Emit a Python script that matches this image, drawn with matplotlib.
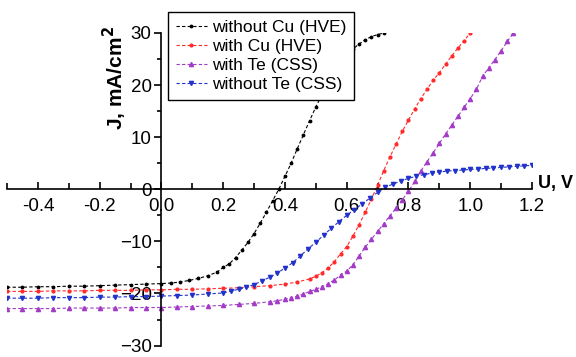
import matplotlib.pyplot as plt
from matplotlib.ticker import MultipleLocator

plt.rcParams['font.family'] = ['Liberation Sans', 'DejaVu Sans']

# J-V curves, U in volts, J in mA/cm^2
u_no_cu = [-0.5, -0.45, -0.4, -0.35, -0.3, -0.25, -0.2, -0.15, -0.1, -0.05, 0.0,
           0.03, 0.06, 0.09, 0.12, 0.15, 0.18, 0.2, 0.22, 0.24, 0.26, 0.28, 0.3,
           0.32, 0.34, 0.36, 0.38, 0.4, 0.42, 0.44, 0.46, 0.48, 0.5, 0.52, 0.54,
           0.56, 0.58, 0.6, 0.62, 0.64, 0.66, 0.68, 0.7, 0.72]
j_no_cu = [-18.8, -18.8, -18.7, -18.7, -18.6, -18.6, -18.5, -18.4, -18.3, -18.2, -18.1,
           -18.0, -17.8, -17.5, -17.1, -16.6, -15.9, -15.0, -14.3, -13.1, -11.7, -10.2, -8.5,
           -6.5, -4.4, -2.2, 0.0, 2.5, 5.0, 7.8, 10.5, 13.2, 15.8, 18.2, 20.3,
           22.2, 23.9, 25.6, 26.9, 27.9, 28.7, 29.3, 29.7, 30.0]

u_cu = [-0.5, -0.45, -0.4, -0.35, -0.3, -0.25, -0.2, -0.15, -0.1, -0.05, 0.0,
        0.05, 0.1, 0.15, 0.2, 0.25, 0.3, 0.35, 0.4, 0.44, 0.48, 0.5, 0.52, 0.54,
        0.56, 0.58, 0.6, 0.62, 0.64, 0.66, 0.68, 0.7, 0.72, 0.74, 0.76, 0.78, 0.8,
        0.82, 0.84, 0.86, 0.88, 0.9, 0.92, 0.94, 0.96, 0.98, 1.0]
j_cu = [-19.6, -19.6, -19.6, -19.5, -19.5, -19.5, -19.4, -19.4, -19.4, -19.3, -19.3,
        -19.2, -19.2, -19.1, -19.0, -18.9, -18.7, -18.5, -18.2, -17.8, -17.2, -16.7, -16.0, -15.1,
        -13.9, -12.4, -11.0, -9.0, -6.8, -4.4, -1.9, 0.8, 3.6, 6.2, 8.7, 11.1, 13.3,
        15.4, 17.4, 19.2, 20.9, 22.4, 24.0, 25.6, 27.1, 28.5, 30.0]

u_te = [-0.5, -0.45, -0.4, -0.35, -0.3, -0.25, -0.2, -0.15, -0.1, -0.05, 0.0,
        0.05, 0.1, 0.15, 0.2, 0.25, 0.3, 0.35, 0.375, 0.4, 0.42, 0.44, 0.46, 0.48,
        0.5, 0.52, 0.54, 0.56, 0.58, 0.6, 0.62, 0.64, 0.66, 0.68, 0.7, 0.72, 0.74,
        0.76, 0.78, 0.8, 0.82, 0.84, 0.86, 0.88, 0.9, 0.92, 0.94, 0.96, 0.98, 1.0,
        1.02, 1.04, 1.06, 1.08, 1.1, 1.12, 1.14]
j_te = [-22.9, -22.9, -22.9, -22.9, -22.8, -22.8, -22.8, -22.8, -22.7, -22.7, -22.7,
        -22.6, -22.5, -22.4, -22.3, -22.1, -21.9, -21.6, -21.4, -21.1, -20.8, -20.5, -20.1, -19.6,
        -19.2, -18.7, -18.1, -17.4, -16.5, -15.7, -14.5, -12.8, -11.1, -9.6, -8.1, -6.6, -5.1,
        -3.6, -2.0, -0.4, 1.5, 3.5, 5.3, 7.0, 8.8, 10.6, 12.3, 14.0, 15.7, 17.4,
        19.2, 21.7, 23.3, 24.9, 26.6, 28.4, 30.0]

u_no_te = [-0.5, -0.45, -0.4, -0.35, -0.3, -0.25, -0.2, -0.15, -0.1, -0.05, 0.0,
           0.05, 0.1, 0.15, 0.2, 0.225, 0.25, 0.275, 0.3, 0.325, 0.35, 0.375, 0.4,
           0.425, 0.45, 0.475, 0.5, 0.525, 0.55, 0.575, 0.6, 0.625, 0.65, 0.675, 0.7,
           0.725, 0.75, 0.775, 0.8, 0.825, 0.85, 0.875, 0.9, 0.925, 0.95, 0.975, 1.0,
           1.025, 1.05, 1.075, 1.1, 1.125, 1.15, 1.175, 1.2]
j_no_te = [-20.9, -20.9, -20.9, -20.8, -20.8, -20.8, -20.7, -20.7, -20.6, -20.6, -20.5,
           -20.4, -20.3, -20.1, -19.9, -19.5, -19.2, -18.8, -18.3, -17.6, -16.9, -16.1, -15.1,
           -14.1, -12.8, -11.4, -10.2, -8.8, -7.5, -6.2, -5.0, -3.9, -2.8, -1.7, -0.6,
           0.4, 1.0, 1.6, 2.1, 2.5, 2.8, 3.1, 3.3, 3.5, 3.6, 3.7, 3.8,
           3.9, 4.0, 4.1, 4.2, 4.3, 4.4, 4.5, 4.6]

series = [
    (u_no_cu, j_no_cu, 'without Cu (HVE)', 'black', '.', 3.5),
    (u_cu, j_cu, 'with Cu (HVE)', '#ff2a2a', 'o', 2.0),
    (u_te, j_te, 'with Te (CSS)', '#a23cc6', '^', 3.0),
    (u_no_te, j_no_te, 'without Te (CSS)', '#2233cc', 'v', 3.0),
]

fig = plt.figure(figsize=(5.76, 3.57), dpi=100)
ax = fig.add_axes([0.0122, 0.032, 0.9114, 0.8756])

for u, j, name, color, marker, ms in series:
    ax.plot(u, j, linestyle=(0, (3, 2)), linewidth=0.8, color=color,
            marker=marker, markersize=ms, label=name)

ax.set_xlim(-0.5, 1.2)
ax.set_ylim(-30, 30)

# axes crossing at the origin
ax.spines['left'].set_position(('data', 0))
ax.spines['bottom'].set_position(('data', 0))
ax.spines['right'].set_visible(False)
ax.spines['top'].set_visible(False)
for s in ('left', 'bottom'):
    ax.spines[s].set_linewidth(1.2)

ax.xaxis.set_major_locator(MultipleLocator(0.2))
ax.xaxis.set_minor_locator(MultipleLocator(0.1))
ax.yaxis.set_major_locator(MultipleLocator(10))
ax.yaxis.set_minor_locator(MultipleLocator(5))
ax.xaxis.set_major_formatter(lambda v, p: f'{v:.1f}')

ax.tick_params(axis='x', which='both', direction='in', width=1.2, labelsize=13.5, pad=6)
ax.tick_params(axis='x', which='major', length=5)
ax.tick_params(axis='x', which='minor', length=4)
ax.tick_params(axis='y', which='both', direction='out', width=1.2, labelsize=13.5, pad=2)
ax.tick_params(axis='y', which='major', length=5)
ax.tick_params(axis='y', which='minor', length=3)

fig.text(0.934, 0.487, 'U, V', fontsize=13, fontweight='bold', va='center', ha='left')
fig.text(0.2, 0.78, r'J, mA/cm$^\mathbf{2}$', fontsize=15, fontweight='bold',
         rotation=90, va='center', ha='center')

leg = ax.legend(loc='upper left', bbox_to_anchor=(0.2917, 0.966),
                bbox_transform=fig.transFigure, borderaxespad=0, fontsize=12.5,
                fancybox=False, edgecolor='black', framealpha=1, numpoints=1,
                handlelength=1.8, handletextpad=0.3, labelspacing=0.22,
                borderpad=0.45)
leg.get_frame().set_linewidth(1.0)

fig.savefig('out.png', dpi=100)
